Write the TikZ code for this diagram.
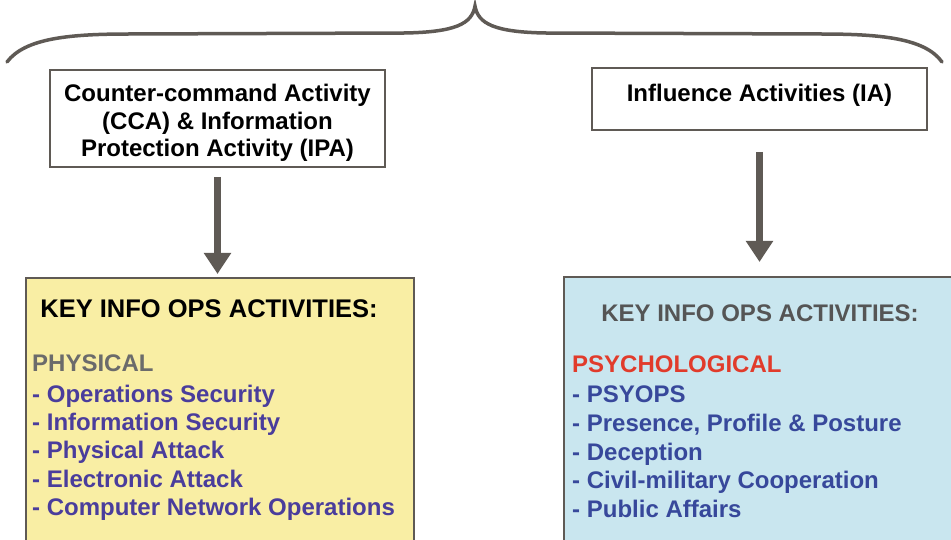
\documentclass[tikz,border=0pt]{standalone}
\usepackage{fontspec}
\setmainfont{Liberation Sans}
\usetikzlibrary{arrows.meta}

\definecolor{framegray}{HTML}{5F5A55}
\definecolor{padyellow}{HTML}{F9EEA4}
\definecolor{padblue}{HTML}{C9E6EF}
\definecolor{itemviolet}{HTML}{4A3D9C}
\definecolor{itemblue}{HTML}{37489B}
\definecolor{headred}{HTML}{E13B2B}
\definecolor{headgray}{HTML}{6B6B6B}
\definecolor{keygray}{HTML}{555555}

\tikzset{
  titlebox/.style={draw=framegray, line width=2bp, fill=white, inner sep=0pt},
  listbox/.style={draw=framegray, line width=2bp, inner sep=0pt},
  boxtext/.style={font=\fontsize{24bp}{28bp}\selectfont\bfseries, anchor=base, inner sep=0pt},
  itemtext/.style={font=\fontsize{24bp}{28bp}\selectfont\bfseries, anchor=base west, inner sep=0pt},
  flowarrow/.style={draw=framegray, line width=6.5bp,
    -{Triangle[length=21bp,width=26bp]}},
  bracket/.style={draw=framegray, line width=3.5bp, line cap=round}
}

\begin{document}
\begin{tikzpicture}[x=1bp,y=-1bp]
\useasboundingbox (0,0) rectangle (951,540);
\fill[white] (0,0) rectangle (951,540);

% overarching brace
\draw[bracket] (7,62) .. controls (25,38) and (70,34) .. (130,34)
  -- (405,33) .. controls (455,32) and (472,24) .. (475,6)
  .. controls (478,24) and (495,32) .. (545,33)
  -- (820,34) .. controls (880,34) and (925,38) .. (942,62);

% top boxes
\node[titlebox, minimum width=335bp, minimum height=97bp] (cca) at (217.5,118.5) {};
\node[boxtext] (cca1) at (217.5,102) {Counter-command Activity};
\node[boxtext] (cca2) at (217.5,130) {(CCA) \& Information};
\node[boxtext] (cca3) at (217.5,157) {Protection Activity (IPA)};

\node[titlebox, minimum width=335bp, minimum height=62bp] (ia) at (759.5,99) {};
\node[boxtext] (ia1) at (759.5,102) {Influence Activities (IA)};

% lower activity panels (running off the page edge)
\node[listbox, fill=padyellow, minimum width=388bp, minimum height=280bp, anchor=north west] (phys) at (25,277) {};
\node[listbox, fill=padblue, minimum width=400bp, minimum height=280bp, anchor=north west] (psych) at (563,276) {};

% connectors (yshift is measured upwards on the page)
\coordinate (ccaout) at ([yshift=-9bp]cca.south);
\coordinate (iaout) at ([yshift=-21bp]ia.south);
\draw[flowarrow] (ccaout) -- ([yshift=3bp]ccaout |- phys.north);
\draw[flowarrow] (iaout) -- ([yshift=14bp]iaout |- psych.north);

% physical activities
\node[boxtext, font=\fontsize{25.5bp}{28bp}\selectfont\bfseries] (physkey) at (209,318) {KEY INFO OPS ACTIVITIES:};
\node[itemtext, text=headgray] (physhead) at (32,372) {PHYSICAL};
\node[itemtext, text=itemviolet] (p1) at (32,402) {- Operations Security};
\node[itemtext, text=itemviolet] (p2) at (32,430) {- Information Security};
\node[itemtext, text=itemviolet] (p3) at (32,458) {- Physical Attack};
\node[itemtext, text=itemviolet] (p4) at (32,487) {- Electronic Attack};
\node[itemtext, text=itemviolet] (p5) at (32,515) {- Computer Network Operations};

% psychological activities
\node[boxtext, text=keygray] (psykey) at (760,322) {KEY INFO OPS ACTIVITIES:};
\node[itemtext, text=headred] (psyhead) at (572,373) {PSYCHOLOGICAL};
\node[itemtext, text=itemblue] (s1) at (572,402) {- PSYOPS};
\node[itemtext, text=itemblue] (s2) at (572,431) {- Presence, Profile \& Posture};
\node[itemtext, text=itemblue] (s3) at (572,460) {- Deception};
\node[itemtext, text=itemblue] (s4) at (572,488) {- Civil-military Cooperation};
\node[itemtext, text=itemblue] (s5) at (572,517) {- Public Affairs};
\end{tikzpicture}
\end{document}
